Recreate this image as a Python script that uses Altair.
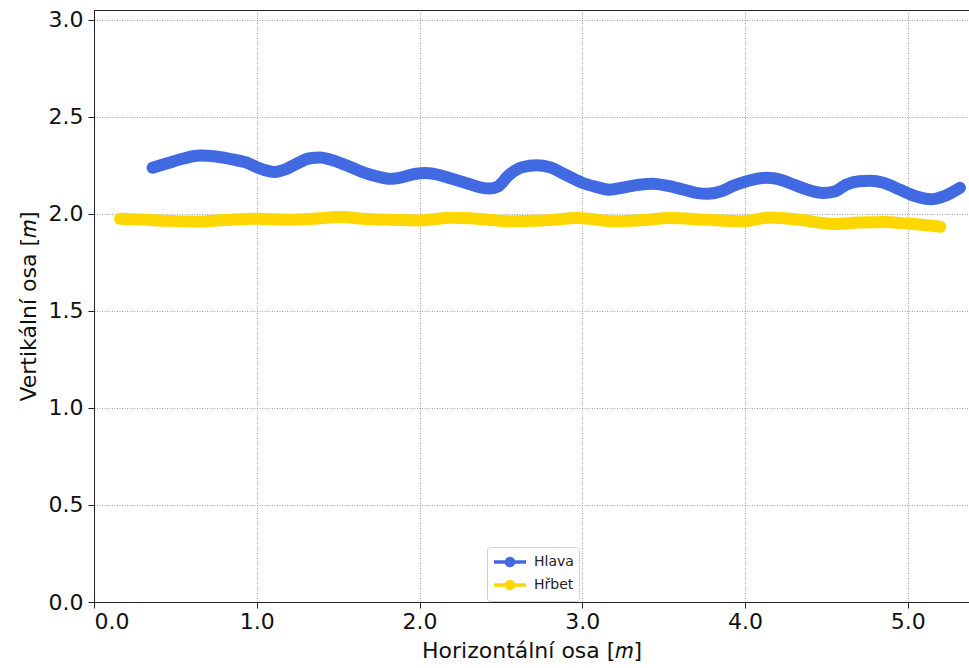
import altair as alt
import pandas as pd

hlava_x = [0.36, 0.45, 0.55, 0.65, 0.75, 0.85, 0.95, 1.0, 1.05, 1.11, 1.18, 1.25, 1.32, 1.39,
           1.45, 1.55, 1.65, 1.75, 1.82, 1.9, 1.97, 2.04, 2.12, 2.2, 2.3, 2.38, 2.43, 2.48,
           2.55, 2.63, 2.72, 2.8, 2.9, 3.0, 3.08, 3.17, 3.25, 3.35, 3.43, 3.52, 3.62, 3.7,
           3.77, 3.85, 3.93, 4.0, 4.07, 4.14, 4.22, 4.3, 4.38, 4.48, 4.55, 4.62, 4.7, 4.77,
           4.85, 4.95, 5.05, 5.14, 5.22, 5.32]
hlava_y = [2.237, 2.26, 2.285, 2.30, 2.295, 2.28, 2.26, 2.24, 2.225, 2.216, 2.23, 2.26, 2.285, 2.29,
           2.28, 2.25, 2.215, 2.19, 2.18, 2.19, 2.205, 2.21, 2.20, 2.18, 2.155, 2.135, 2.13, 2.14,
           2.20, 2.24, 2.25, 2.24, 2.20, 2.16, 2.14, 2.124, 2.135, 2.15, 2.155, 2.145, 2.125, 2.108,
           2.103, 2.115, 2.145, 2.165, 2.18, 2.186, 2.175, 2.15, 2.125, 2.107, 2.115, 2.15, 2.168, 2.17,
           2.16, 2.125, 2.09, 2.075, 2.09, 2.134]

hrbet_x = [0.16, 0.3, 0.45, 0.63, 0.8, 1.0, 1.2, 1.35, 1.51, 1.65, 1.8, 2.0, 2.2, 2.35, 2.54,
           2.75, 2.98, 3.19, 3.35, 3.54, 3.75, 3.99, 4.15, 4.34, 4.54, 4.7, 4.85, 5.0, 5.1, 5.2]
hrbet_y = [1.974, 1.97, 1.964, 1.96, 1.968, 1.974, 1.97, 1.975, 1.983, 1.975, 1.97, 1.966, 1.98, 1.975, 1.962,
           1.965, 1.978, 1.962, 1.966, 1.978, 1.97, 1.962, 1.981, 1.969, 1.948, 1.955, 1.958, 1.95, 1.942, 1.933]

series = ["Hlava", "Hřbet"]
colors = ["#4169E1", "#FFD700"]
x_ticks = [0, 1, 2, 3, 4, 5]
y_ticks = [0, 0.5, 1.0, 1.5, 2.0, 2.5, 3.0]

df = pd.concat([
    pd.DataFrame({"x": hlava_x, "y": hlava_y, "s": series[0], "o": range(len(hlava_x))}),
    pd.DataFrame({"x": hrbet_x, "y": hrbet_y, "s": series[1], "o": range(len(hrbet_x))}),
])

FONT = "DejaVu Sans"
# line from -1 to 3 units with a dot in its middle (unit = 8 px at symbolSize 256)
sym_path = "M-1,0H3M1.45,0A0.45,0.45,0,1,1,0.55,0A0.45,0.45,0,1,1,1.45,0Z"


def build(use_encode):
    leg_kwargs = dict(
        title=None, orient="none", legendX=393, legendY=537,
        symbolType=sym_path, symbolSize=256, symbolStrokeWidth=3.5,
        labelFont=FONT, labelFontSize=14, labelColor="#222",
        fillColor="white", strokeColor="#d0d0d0", cornerRadius=3,
        padding=5, rowPadding=1, symbolOffset=0, labelOffset=22,
    )
    if use_encode:
        leg_kwargs["encode"] = {"symbols": {"update": {
            "fill": {"scale": "color", "field": "value"},
            "stroke": {"scale": "color", "field": "value"},
            "fillOpacity": {"value": 1},
        }}}
    chart = alt.Chart(df).mark_line(
        strokeWidth=12, strokeCap="round", strokeJoin="round", interpolate="monotone"
    ).encode(
        x=alt.X("x:Q", scale=alt.Scale(domain=[0, 5.376], nice=False, zero=False),
                axis=alt.Axis(values=x_ticks, format=".1f", title="Horizontální osa [𝑚]",
                              titlePadding=8)),
        y=alt.Y("y:Q", scale=alt.Scale(domain=[0, 3.05], nice=False),
                axis=alt.Axis(values=y_ticks, format=".1f", title="Vertikální osa [𝑚]",
                              titlePadding=8)),
        color=alt.Color("s:N", scale=alt.Scale(domain=series, range=colors),
                        legend=alt.Legend(**leg_kwargs)),
        order="o:Q",
    ).properties(
        width=875, height=592,
        autosize=alt.AutoSizeParams(type="none"),
        padding={"left": 94, "top": 10, "right": 0, "bottom": 66},
    ).configure_view(
        stroke="#222", strokeWidth=1
    ).configure_axis(
        labelFont=FONT, labelFontSize=22, labelColor="#111",
        titleFont=FONT, titleFontSize=22, titleFontWeight="normal", titleColor="#111",
        domainColor="#222", domainWidth=1, tickColor="#222", tickSize=6, tickWidth=1,
        gridColor="#8a8a8a", gridWidth=0.8, gridDash=[1, 1.5],
    ).configure_axisX(labelPadding=3).configure_axisY(labelPadding=5)
    return chart


try:
    chart = build(True)
    chart.to_dict()
except Exception:
    chart = build(False)

chart.save("out.html", embed_options={"renderer": "svg", "actions": False})
